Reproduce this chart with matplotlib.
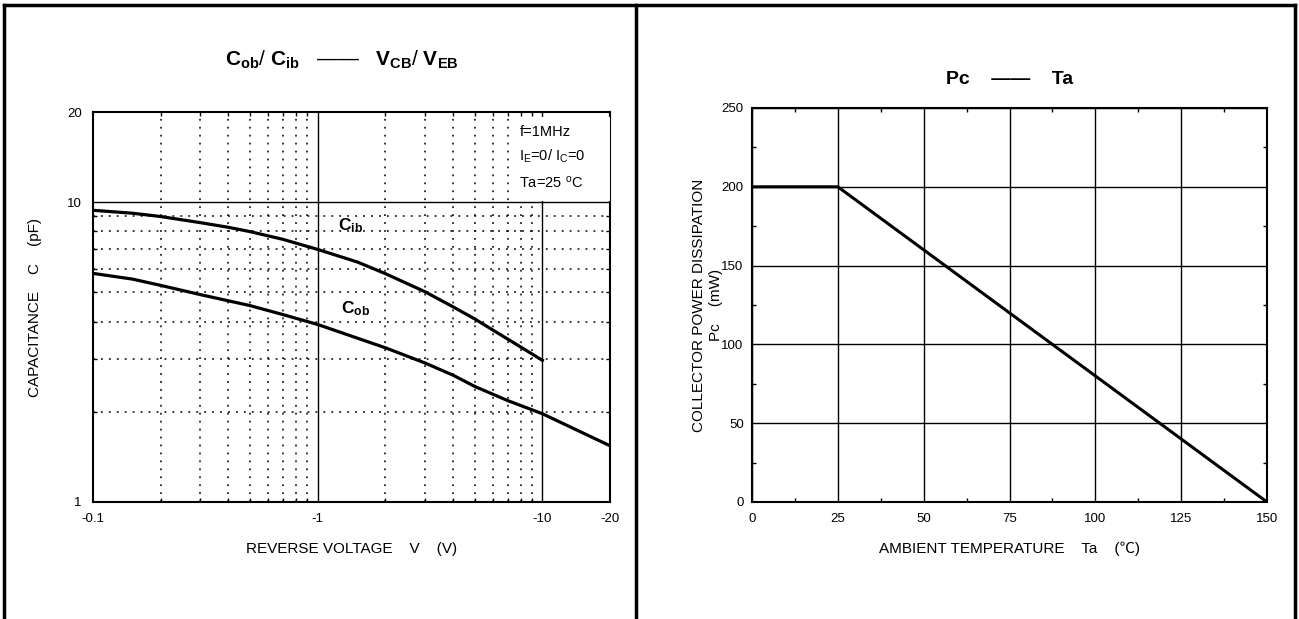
import matplotlib
matplotlib.use("Agg")
import matplotlib.pyplot as plt
from matplotlib.ticker import FixedLocator, NullFormatter, FixedFormatter
from matplotlib.lines import Line2D
from matplotlib.patches import Rectangle

plt.rcParams['font.family'] = ['Liberation Sans', 'DejaVu Sans']
plt.rcParams['mathtext.fontset'] = 'custom'
plt.rcParams['mathtext.rm'] = 'Liberation Sans'
plt.rcParams['mathtext.it'] = 'Liberation Sans'
plt.rcParams['mathtext.bf'] = 'Liberation Sans:bold'

# ---- data: capacitance vs reverse voltage ----
voltage_cib = [0.1, 0.15, 0.2, 0.3, 0.4, 0.5, 0.7, 1, 1.5, 2, 3, 4, 5, 10]
cib_pf = [9.4, 9.19, 8.96, 8.55, 8.25, 7.98, 7.52, 6.96, 6.32, 5.78, 5.03, 4.48,
          4.08, 2.97]
voltage_cob = [0.1, 0.15, 0.2, 0.3, 0.5, 0.7, 1, 2, 3, 4, 5, 7, 10, 20]
cob_pf = [5.79, 5.54, 5.28, 4.92, 4.52, 4.22, 3.91, 3.27, 2.91, 2.65, 2.43, 2.18,
          1.97, 1.54]

v_ticks = [0.1, 1, 10, 20]
v_tick_labels = ['-0.1', '-1', '-10', '-20']
c_ticks = [1, 10, 20]
c_tick_labels = ['1', '10', '20']

# ---- data: power dissipation vs ambient temperature ----
ta_c = [0, 25, 150]
pc_mw = [200, 200, 0]
ta_ticks = [0, 25, 50, 75, 100, 125, 150]
pc_ticks = [0, 50, 100, 150, 200, 250]

W, H = 1299, 619
fig = plt.figure(figsize=(W / 100, H / 100), dpi=100)

def fx(px):
    return px / W

def fy(py):
    return 1 - py / H

# ---------- left chart ----------
ax1 = fig.add_axes([fx(93), fy(502), fx(610) - fx(93), fy(112) - fy(502)])
ax1.set_xscale('log')
ax1.set_yscale('log')
ax1.set_xlim(0.1, 20)
ax1.set_ylim(1, 20)
ax1.xaxis.set_major_locator(FixedLocator(v_ticks))
ax1.xaxis.set_major_formatter(FixedFormatter(v_tick_labels))
ax1.xaxis.set_minor_locator(FixedLocator([0.2, 0.3, 0.4, 0.5, 0.6, 0.7, 0.8, 0.9,
                                          2, 3, 4, 5, 6, 7, 8, 9]))
ax1.xaxis.set_minor_formatter(NullFormatter())
ax1.yaxis.set_major_locator(FixedLocator(c_ticks))
ax1.yaxis.set_major_formatter(FixedFormatter(c_tick_labels))
ax1.yaxis.set_minor_locator(FixedLocator([2, 3, 4, 5, 6, 7, 8, 9]))
ax1.yaxis.set_minor_formatter(NullFormatter())

ax1.grid(which='minor', color='black', linestyle=(0, (1.2, 4)), linewidth=1.1)
for v in [1, 10]:
    ax1.axvline(v, color='black', linewidth=1.0, zorder=1.5)
ax1.axhline(10, color='black', linewidth=1.0, zorder=1.5)

ax1.plot(voltage_cib, cib_pf, color='black', linewidth=2.3, zorder=3)
ax1.plot(voltage_cob, cob_pf, color='black', linewidth=2.3, zorder=3)

ax1.tick_params(which='both', direction='in', top=True, right=True,
                labelsize=9.5, width=1)
ax1.tick_params(which='major', length=0, pad=8)
ax1.tick_params(which='minor', length=3)
for s in ax1.spines.values():
    s.set_linewidth(1.5)

ax1.text(1.23, 8.38, r'$\mathbf{C}_{\mathbf{ib}}$', fontsize=12.5, ha='left', va='center', zorder=4)
ax1.text(1.27, 4.42, r'$\mathbf{C}_{\mathbf{ob}}$', fontsize=12.5, ha='left', va='center', zorder=4)

ax1.add_patch(Rectangle((7.6, 10.06), 20 - 7.6, 19.2 - 10.06, facecolor='white',
                        edgecolor='none', zorder=4))
ax1.text(7.9, 14.1, 'f=1MHz\nI$_E$=0/ I$_C$=0\nTa=25 $^{\\rm o}$C', fontsize=10.5,
         ha='left', va='center', linespacing=1.7, zorder=5)

ax1.set_xlabel('REVERSE VOLTAGE    V    (V)', fontsize=11, labelpad=12)
fig.text(fx(35), fy(307), 'CAPACITANCE    C    (pF)', rotation=90, fontsize=11,
         ha='center', va='center')
fig.text(fx(342), fy(60),
         r'$\mathbf{C}_{\mathbf{ob}}$/ $\mathbf{C}_{\mathbf{ib}}$   ——   $\mathbf{V}_{\mathbf{CB}}$/ $\mathbf{V}_{\mathbf{EB}}$',
         fontsize=15, ha='center', va='center')

# ---------- right chart ----------
ax2 = fig.add_axes([fx(752), fy(502), fx(1267) - fx(752), fy(108) - fy(502)])
ax2.set_xlim(0, 150)
ax2.set_ylim(0, 250)
ax2.xaxis.set_major_locator(FixedLocator(ta_ticks))
ax2.yaxis.set_major_locator(FixedLocator(pc_ticks))
ax2.xaxis.set_minor_locator(FixedLocator([12.5, 37.5, 62.5, 87.5, 112.5, 137.5]))
ax2.yaxis.set_minor_locator(FixedLocator([25, 75, 125, 175, 225]))
ax2.grid(which='major', color='black', linewidth=1.0)
ax2.plot(ta_c, pc_mw, color='black', linewidth=2.2, zorder=3)
ax2.tick_params(which='both', direction='in', top=True, right=True,
                labelsize=9.5, width=1)
ax2.tick_params(which='major', length=0, pad=8)
ax2.tick_params(axis='y', which='major', pad=6)
ax2.tick_params(which='minor', length=3)
for s in ax2.spines.values():
    s.set_linewidth(1.5)

ax2.set_xlabel('AMBIENT TEMPERATURE    Ta    (℃)', fontsize=11, labelpad=12,
               family=['Liberation Sans', 'Noto Sans CJK SC'])
fig.text(fx(699), fy(305), 'COLLECTOR POWER DISSIPATION', rotation=90,
         fontsize=11, ha='center', va='center')
fig.text(fx(716), fy(305), 'Pc    (mW)', rotation=90,
         fontsize=11, ha='center', va='center')
fig.text(fx(1010), fy(80), 'Pc    ——    Ta', fontsize=14, fontweight='bold',
         ha='center', va='center')

# ---------- outer frame ----------
tr = fig.transFigure
for (x0, y0, x1, y1) in [(4, 5, 1295, 5), (4, 5, 4, 619), (1295, 5, 1295, 619),
                         (636, 5, 636, 619)]:
    fig.add_artist(Line2D([fx(x0), fx(x1)], [fy(y0), fy(y1)], transform=tr,
                          color='black', linewidth=2.5))

fig.savefig('out.png', dpi=100)
